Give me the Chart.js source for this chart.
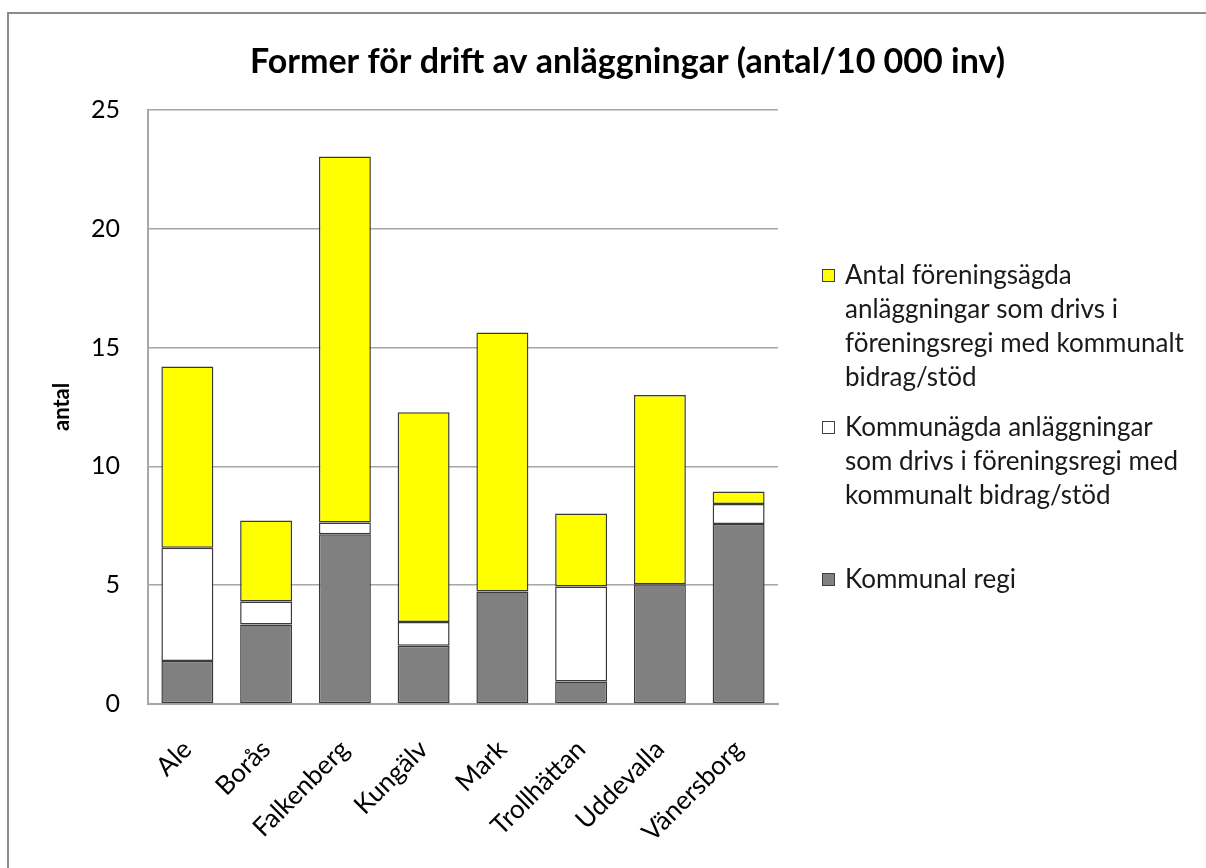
<!DOCTYPE html>
<html>
<head>
<meta charset="utf-8">
<script src="https://cdn.jsdelivr.net/npm/chart.js@4.4.0/dist/chart.umd.min.js"></script>
<style>
  html, body { margin: 0; padding: 0; background: #fff; overflow: hidden; }
  #wrap { position: relative; width: 1206px; height: 868px; }
  #frame { position: absolute; left: 7px; top: 12px; right: -10px; bottom: -10px; border: 2px solid #8c8c8c; }
  #chart { position: absolute; left: 0; top: 0; }
</style>
</head>
<body>
<div id="wrap">
  <div id="frame"></div>
  <canvas id="chart" width="1206" height="868"></canvas>
</div>
<script>
const categories = ["Ale", "Borås", "Falkenberg", "Kungälv", "Mark", "Trollhättan", "Uddevalla", "Vänersborg"];

// antal / 10 000 inv
const kommunalRegi = [1.81, 3.35, 7.14, 2.45, 4.73, 0.95, 5.04, 7.57];
const kommunagda = [4.76, 0.96, 0.50, 1.00, 0, 3.99, 0, 0.84];
const foreningsagda = [7.63, 3.41, 15.40, 8.82, 10.90, 3.08, 7.96, 0.53];

const seriesNames = [
  "Kommunal regi",
  "Kommunägda anläggningar som drivs i föreningsregi med kommunalt bidrag/stöd",
  "Antal föreningsägda anläggningar som drivs i föreningsregi med kommunalt bidrag/stöd",
];
const legendLines = [
  ["Kommunal regi"],
  ["Kommunägda anläggningar", "som drivs i föreningsregi med", "kommunalt bidrag/stöd"],
  ["Antal föreningsägda", "anläggningar som drivs i", "föreningsregi med kommunalt", "bidrag/stöd"],
];
const yMin = 0;
const yMax = 25;
const yStep = 5;

const FONT = "Lato, 'DejaVu Sans', sans-serif";
const legendTops = [580, 428, 276]; // middle of first line, per series

// draws the wrapped legend at the right, top entry = last dataset
const sideLegend = {
  id: "sideLegend",
  afterDraw(chart) {
    const ctx = chart.ctx;
    ctx.save();
    ctx.font = "26px " + FONT;
    ctx.textBaseline = "middle";
    chart.data.datasets.forEach((ds, i) => {
      const y = legendTops[i];
      ctx.fillStyle = ds.backgroundColor;
      ctx.fillRect(822, y - 7, 13, 13);
      ctx.strokeStyle = "#404040";
      ctx.lineWidth = 1;
      ctx.strokeRect(822.5, y - 6.5, 12, 12);
      ctx.fillStyle = "#1a1a1a";
      legendLines[i].forEach((line, j) => {
        ctx.fillText(line, 845, y + j * 34);
      });
    });
    ctx.restore();
  },
};

const makeSet = (label, data, color) => ({
  label,
  data,
  backgroundColor: color,
  borderColor: "#3a3a3a",
  borderWidth: 1.5,
  borderSkipped: false,
  categoryPercentage: 1,
  barPercentage: 0.66,
});

new Chart(document.getElementById("chart").getContext("2d"), {
  type: "bar",
  data: {
    labels: categories,
    datasets: [
      makeSet(seriesNames[0], kommunalRegi, "#808080"),
      makeSet(seriesNames[1], kommunagda, "#ffffff"),
      makeSet(seriesNames[2], foreningsagda, "#ffff00"),
    ],
  },
  options: {
    responsive: false,
    animation: false,
    layout: { padding: { left: 49, right: 0, top: 0, bottom: 0 } },
    plugins: {
      legend: { display: false },
      tooltip: { enabled: false },
      title: {
        display: true,
        text: "Former för drift av anläggningar (antal/10 000 inv)",
        color: "#000",
        font: { family: FONT, size: 34, weight: "bold" },
        padding: { top: 42, bottom: 27 },
      },
    },
    scales: {
      x: {
        stacked: true,
        grid: { display: false },
        border: { color: "#a6a6a6", width: 2 },
        ticks: {
          color: "#000",
          font: { family: FONT, size: 26 },
          minRotation: 45,
          maxRotation: 45,
          padding: 22,
        },
        afterFit(scale) { scale.height = 164; },
      },
      y: {
        stacked: true,
        min: yMin,
        max: yMax,
        ticks: {
          stepSize: yStep,
          color: "#000",
          font: { family: FONT, size: 25 },
          padding: 28,
        },
        grid: { color: "#a6a6a6", lineWidth: 1.5, drawTicks: false },
        border: { color: "#a6a6a6", width: 2 },
        title: {
          display: true,
          text: "antal",
          color: "#000",
          font: { family: FONT, size: 22, weight: "bold" },
          padding: 0,
        },
        afterFit(scale) { scale.width = 99; },
      },
      legendSpace: {
        type: "linear",
        position: "right",
        display: true,
        grid: { display: false },
        border: { display: false },
        ticks: { display: false },
        afterFit(scale) { scale.width = 428; },
      },
    },
  },
  plugins: [sideLegend],
});
</script>
</body>
</html>
